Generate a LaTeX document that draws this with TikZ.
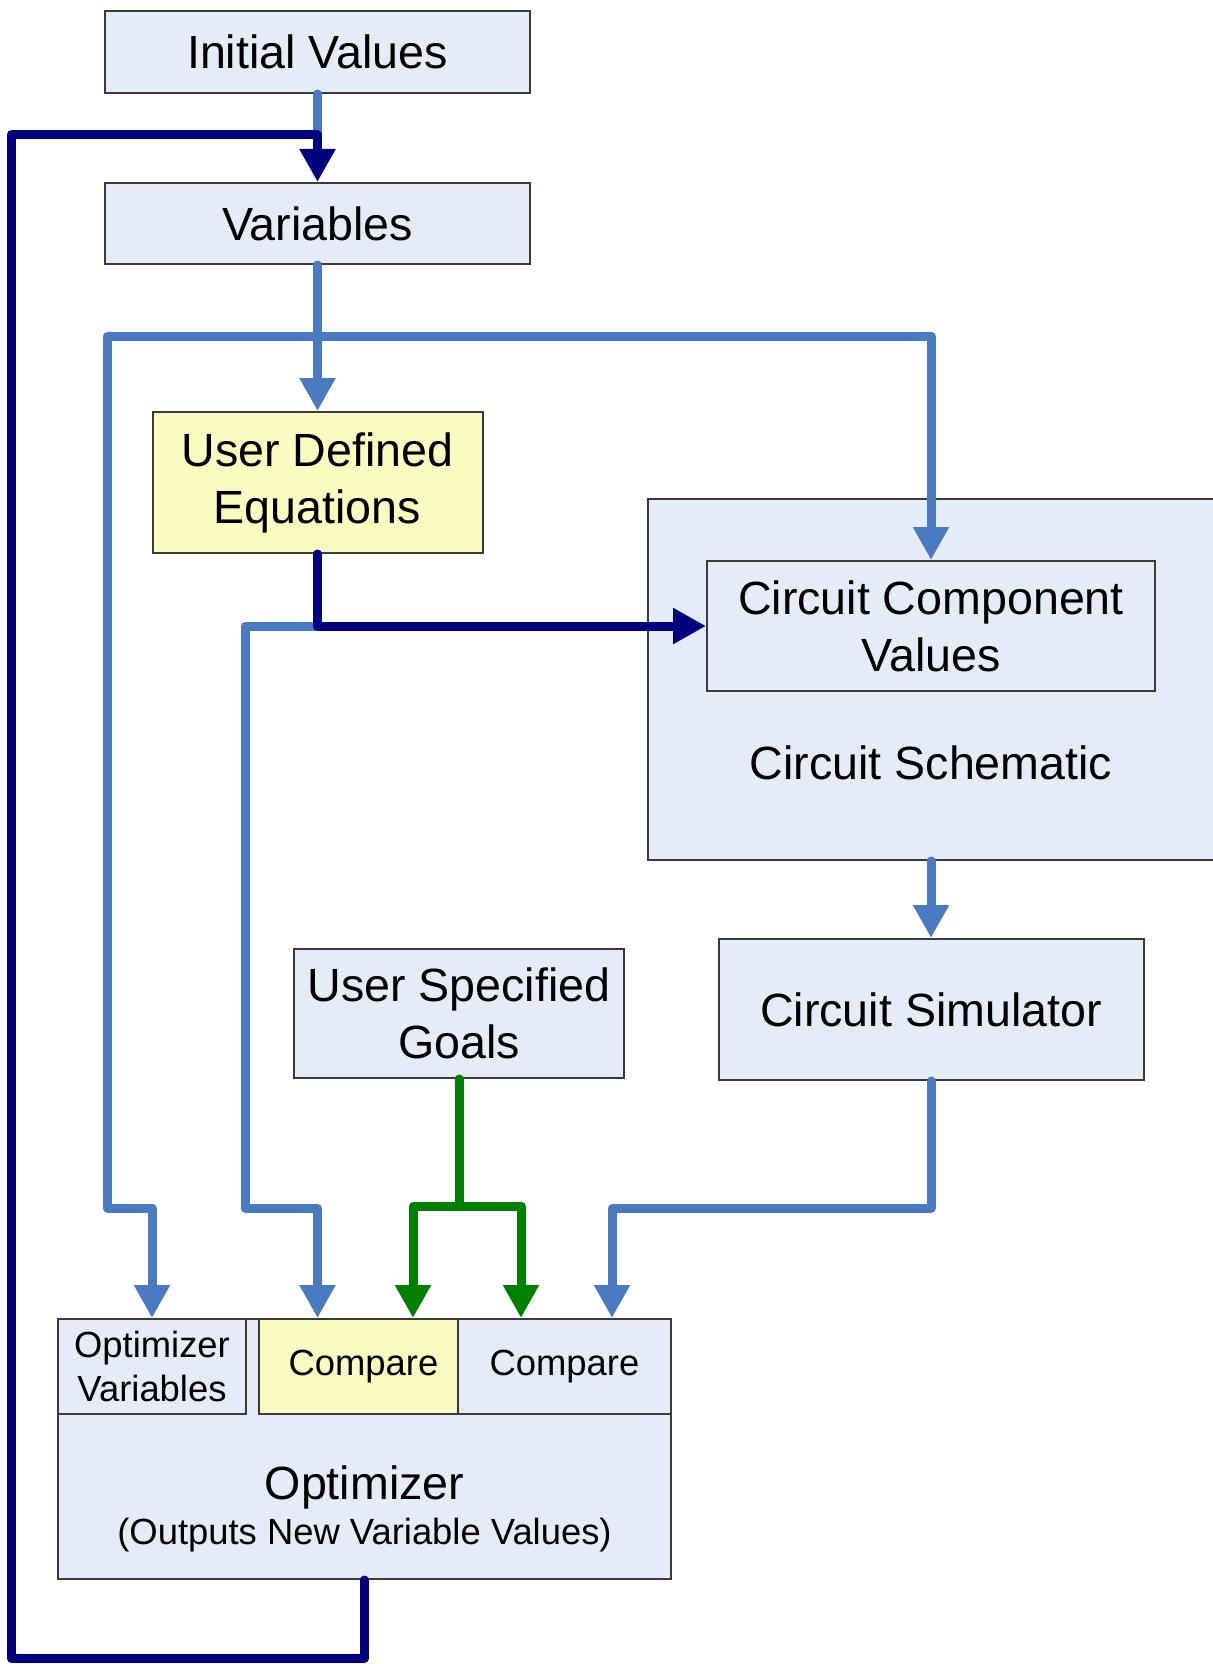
\documentclass[tikz,border=0pt]{standalone}
\usepackage{fontspec}
\setmainfont{Liberation Sans}
\usetikzlibrary{arrows.meta}
\definecolor{boxfill}{HTML}{E6ECF7}
\definecolor{yelfill}{HTML}{FAFBC0}
\definecolor{boxline}{HTML}{3A3A3A}
\definecolor{lbline}{HTML}{4A7AC2}
\definecolor{navyline}{HTML}{000080}
\definecolor{grnline}{HTML}{008000}
\newcommand{\bigtxt}{\fontsize{23.3pt}{28.5pt}\selectfont}
\newcommand{\smltxt}{\fontsize{18.2pt}{22.3pt}\selectfont}
\begin{document}
\begin{tikzpicture}[x=0.5pt,y=-0.5pt,
  box/.style={draw=boxline, line width=1pt, fill=boxfill, inner sep=0pt, align=center, font=\bigtxt},
  ybox/.style={box, fill=yelfill},
  conn/.style={line width=4.5pt, line cap=round, line join=round},
  lbl/.style={conn, draw=lbline},
  nvl/.style={conn, draw=navyline},
  grl/.style={conn, draw=grnline},
  arr/.style={-{Triangle[length=16.5pt,width=17pt]}},
  arrtwo/.style={{Triangle[length=16.5pt,width=17pt]}-{Triangle[length=16.5pt,width=17pt]}},
]
\useasboundingbox (0,0) rectangle (1212,1664);
% boxes
\node[box, minimum width=212.5pt, minimum height=41pt] (iv) at (317.5,52) {Initial Values};
\node[box, minimum width=212.5pt, minimum height=40.5pt] (vars) at (317.5,223.5) {Variables};
\node[ybox, minimum width=165pt, minimum height=70.5pt] (ude) at (317.5,482.5) {User Defined\\Equations};
\node[box, minimum width=284pt, minimum height=180.5pt] (cs) at (932,679.5) {};
\node[anchor=base, font=\bigtxt] (cslabel) at (931,779) {Circuit Schematic};
\node[box, minimum width=224pt, minimum height=65pt] (ccv) at (931,626) {Circuit Component\\Values};
\node[box, minimum width=212.5pt, minimum height=70.5pt] (sim) at (931,1009.5) {Circuit Simulator};
\node[box, minimum width=165pt, minimum height=64.5pt] (goals) at (459,1013.5) {User Specified\\Goals};
\node[box, minimum width=306.5pt, minimum height=130pt] (opt) at (364.5,1449) {};
\node[box, font=\smltxt, minimum width=94pt, minimum height=47.5pt] (ovars) at (152,1366.5) {Optimizer\\Variables};
\node[ybox, font=\smltxt, minimum width=99.5pt, minimum height=47.5pt, text width=96pt, align=center] (cmp1) at (358.5,1366.5) {\hspace*{5pt}Compare};
\node[box, font=\smltxt, minimum width=106.5pt, minimum height=47.5pt] (cmp2) at (564.5,1366.5) {Compare};
\node[anchor=base, font=\bigtxt] (optlabel) at (364.5,1499) {Optimizer};
\node[anchor=base, font=\smltxt] (optsub) at (364.5,1544) {(Outputs New Variable Values)};
% bend coordinates
\coordinate (lt) at (317.5,135);
\coordinate (ll) at (11,135);
\coordinate (loopBL) at (11,1658);
\coordinate (loopBR) at (364.5,1658);
\coordinate (hjL) at (107,336);
\coordinate (hjR) at (931,336);
\coordinate (hjLb) at (107,1208);
\coordinate (j1) at (317.5,626);
\coordinate (j1L) at (245,626);
\coordinate (j1Lb) at (245,1208);
\coordinate (simb) at (931,1208);
\coordinate (simbL) at (612,1208);
\coordinate (gj) at (459,1206);
\coordinate (gjL) at (413,1206);
\coordinate (gjR) at (521,1206);
% connectors
\draw[lbl] (iv.south) -- (lt);
\draw[lbl,arr] (vars.south) -- (ude.north);
\draw[lbl,arrtwo] (ccv.north) -- (hjR) -- (hjL) -- (hjLb) -| (ovars.north);
\draw[lbl,arr] (j1) -- (j1L) -- (j1Lb) -| (cmp1.north -| j1);
\draw[lbl,arr] (sim.north |- cs.south) -- (sim.north);
\draw[lbl,arr] (sim.south) -- (simb) -- (simbL) -- (cmp2.north -| simbL);
\draw[nvl,arr] (ude.south) -- (j1) -- (ccv.west);
\draw[nvl,arr] (opt.south) -- (loopBR) -- (loopBL) -- (ll) -- (lt) -- (vars.north);
\draw[grl] (goals.south) -- (gj);
\draw[grl,arrtwo] (cmp1.north -| gjL) -- (gjL) -- (gjR) -- (cmp2.north -| gjR);
\end{tikzpicture}
\end{document}
